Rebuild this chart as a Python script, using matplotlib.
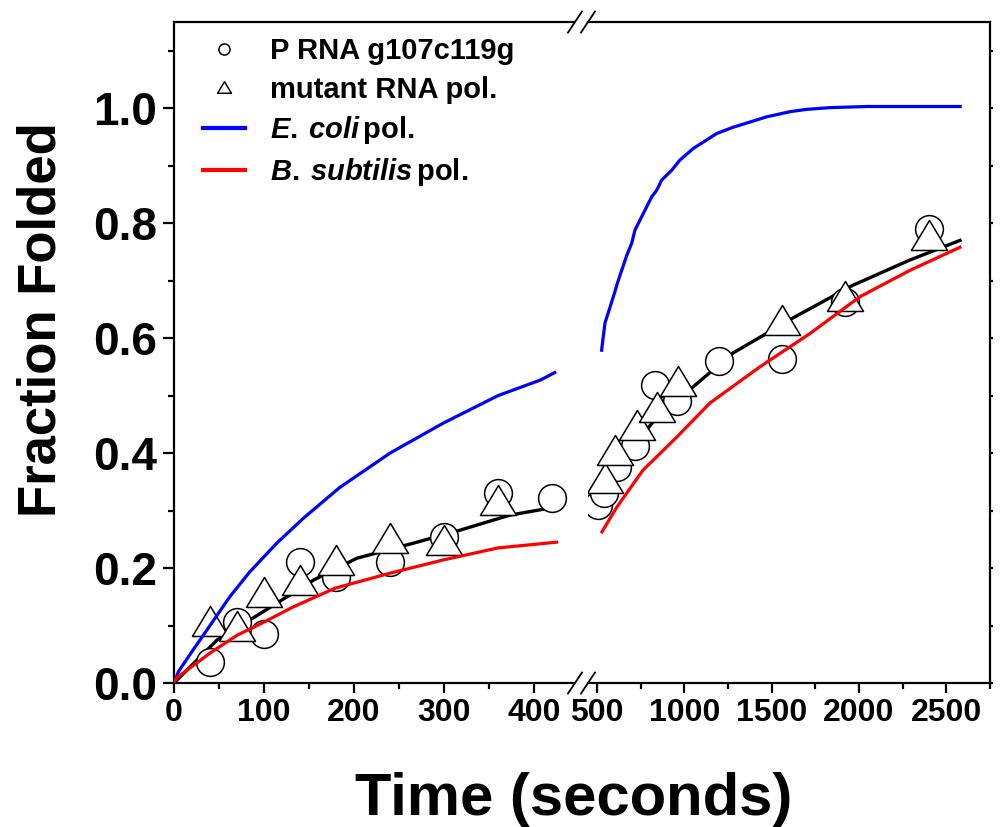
import numpy as np
import matplotlib
matplotlib.use('Agg')
import matplotlib.pyplot as plt
from matplotlib.lines import Line2D
from matplotlib.path import Path
from matplotlib.ticker import MultipleLocator

plt.rcParams['font.family'] = ['Liberation Sans', 'DejaVu Sans']
plt.rcParams['font.weight'] = 'bold'
plt.rcParams['mathtext.fontset'] = 'custom'
plt.rcParams['mathtext.rm'] = 'Liberation Sans:bold'
plt.rcParams['mathtext.it'] = 'Liberation Sans:italic:bold'

# data (time in seconds, fraction folded)
circ_t = [40, 70, 100, 140, 180, 240, 300, 360, 420,
          505, 540, 615, 720, 830, 960, 1200, 1560, 1920, 2400]
circ_y = [0.037, 0.106, 0.085, 0.21, 0.184, 0.21, 0.254, 0.33, 0.322,
          0.31, 0.33, 0.375, 0.412, 0.518, 0.49, 0.56, 0.563, 0.663, 0.79]

tri_t = [40, 70, 100, 140, 180, 240, 300, 360,
         545, 605, 730, 845, 965, 1560, 1920, 2400]
tri_y = [0.108, 0.099, 0.158, 0.18, 0.214, 0.252, 0.249, 0.318,
         0.357, 0.405, 0.449, 0.48, 0.525, 0.631, 0.673, 0.78]

fit_left_t = [0, 48, 96, 155, 203, 270, 318, 373, 420]
fit_left_y = [0.0, 0.075, 0.121, 0.179, 0.217, 0.245, 0.266, 0.292, 0.305]
fit_right_t = [520, 600, 700, 850, 1049, 1278, 1621, 1965, 2292, 2578]
fit_right_y = [0.31, 0.36, 0.41, 0.465, 0.515, 0.574, 0.635, 0.692, 0.736, 0.77]

ecoli_left_t = [0, 5, 21, 40, 62, 84, 114, 144, 184, 240, 299, 360, 407, 423]
ecoli_left_y = [0.0, 0.02, 0.057, 0.10, 0.15, 0.193, 0.243, 0.287, 0.34,
                0.40, 0.452, 0.50, 0.527, 0.54]
ecoli_right_t = [526, 545, 593, 622, 641, 670, 698, 717, 770, 813, 841, 870,
                 927, 975, 1051, 1108, 1185, 1280, 1376, 1471, 1605, 1700,
                 1834, 2044, 2579]
ecoli_right_y = [0.579, 0.626, 0.672, 0.701, 0.718, 0.744, 0.765, 0.788, 0.82,
                 0.846, 0.857, 0.875, 0.892, 0.910, 0.930, 0.941, 0.956, 0.967,
                 0.976, 0.985, 0.994, 0.998, 1.001, 1.003, 1.003]

bsub_left_t = [0, 3, 40, 70, 100, 132, 179, 240, 299, 360, 425]
bsub_left_y = [0.0, 0.009, 0.052, 0.083, 0.106, 0.132, 0.165, 0.191, 0.214,
               0.235, 0.245]
bsub_right_t = [528, 613, 762, 957, 1146, 1432, 1719, 2005, 2292, 2578]
bsub_right_y = [0.263, 0.306, 0.37, 0.428, 0.487, 0.55, 0.608, 0.672, 0.718, 0.758]

labels = ['P RNA g107c119g', 'mutant RNA pol.',
          r'$\mathit{E.\:coli}\,$pol.', r'$\mathit{B.\:subtilis}\,$pol.']

W, H = 1005, 827
fig = plt.figure(figsize=(W / 100, H / 100), dpi=100)
ax1 = fig.add_axes([174 / W, 1 - 683 / H, 400 / W, 661 / H])
ax2 = fig.add_axes([588 / W, 1 - 683 / H, 402 / W, 661 / H], sharey=ax1)

tri = Path([(0, 0.83), (-1, -0.83), (1, -0.83), (0, 0.83)],
           [Path.MOVETO, Path.LINETO, Path.LINETO, Path.CLOSEPOLY])

circ_t = np.array(circ_t); circ_y = np.array(circ_y)
tri_t = np.array(tri_t); tri_y = np.array(tri_y)

for ax, lo, hi in [(ax1, 0, 444.4), (ax2, 448, 2750)]:
    m = (circ_t >= lo) & (circ_t <= hi)
    ax.plot(circ_t[m], circ_y[m], ls='none', marker='o', ms=20, mfc='white',
            mec='black', mew=1.1, zorder=3)
    m = (tri_t >= lo) & (tri_t <= hi)
    ax.plot(tri_t[m], tri_y[m], ls='none', marker=tri, ms=26, mfc='white',
            mec='black', mew=1.1, zorder=4)
    ax.set_xlim(lo, hi)

ax1.plot(fit_left_t, fit_left_y, color='black', lw=2.4, zorder=2)
ax2.plot(fit_right_t, fit_right_y, color='black', lw=2.4, zorder=2)
ax1.plot(ecoli_left_t, ecoli_left_y, color='#0000ff', lw=2.3, zorder=5)
ax2.plot(ecoli_right_t, ecoli_right_y, color='#0000ff', lw=2.3, zorder=5)
ax1.plot(bsub_left_t, bsub_left_y, color='#ff0000', lw=2.3, zorder=5)
ax2.plot(bsub_right_t, bsub_right_y, color='#ff0000', lw=2.3, zorder=5)

ax1.set_ylim(0, 1.15)
ax1.yaxis.set_major_locator(MultipleLocator(0.2))
ax1.yaxis.set_minor_locator(MultipleLocator(0.1))
ax1.xaxis.set_major_locator(MultipleLocator(100))
ax1.xaxis.set_minor_locator(MultipleLocator(50))
ax2.xaxis.set_major_locator(MultipleLocator(500))
ax2.xaxis.set_minor_locator(MultipleLocator(250))
ax1.yaxis.set_major_formatter(lambda v, p: f'{v:.1f}')

for ax in (ax1, ax2):
    for s in ax.spines.values():
        s.set_linewidth(1.6)
    ax.tick_params(axis='x', which='major', direction='out', length=7, width=1.6,
                   pad=4, labelsize=23)
    ax.tick_params(axis='x', which='minor', direction='out', length=4.3, width=1.6)
ax1.spines['right'].set_visible(False)
ax2.spines['left'].set_visible(False)
ax1.tick_params(axis='y', which='major', direction='out', length=8, width=1.6,
                pad=4, labelsize=33)
ax1.tick_params(axis='y', which='minor', direction='out', length=4.5, width=1.6)
ax2.tick_params(axis='y', which='both', left=False, right=True, labelleft=False,
                direction='out', length=2.5, width=1.6)

# axis break marks
for cx in (575, 588):
    for cy in (683, 22):
        fig.add_artist(Line2D([(cx - 7) / W, (cx + 7) / W],
                              [1 - (cy + 10.5) / H, 1 - (cy - 10.5) / H],
                              transform=fig.transFigure, color='black', lw=1.3))

handles = [
    Line2D([], [], ls='none', marker='o', ms=8, mfc='white', mec='black', mew=1.1),
    Line2D([], [], ls='none', marker=tri, ms=10, mfc='white', mec='black', mew=1.1),
    Line2D([], [], color='#0000ff', lw=3),
    Line2D([], [], color='#ff0000', lw=3),
]
ax1.legend(handles, labels, loc='upper left', bbox_to_anchor=(203 / W, 1 - 37 / H),
           bbox_transform=fig.transFigure, frameon=False, fontsize=21,
           borderpad=0, borderaxespad=0, handlelength=1.45, handletextpad=0.85,
           labelspacing=0.36)

fig.text(42 / W, 1 - 320 / H, 'Fraction Folded', rotation=90, ha='center',
         va='center', fontsize=38, fontweight='bold')
fig.text(574 / W, 1 - 815 / H, 'Time (seconds)', ha='center', va='baseline',
         fontsize=43, fontweight='bold')

fig.savefig('out.png', dpi=100)
